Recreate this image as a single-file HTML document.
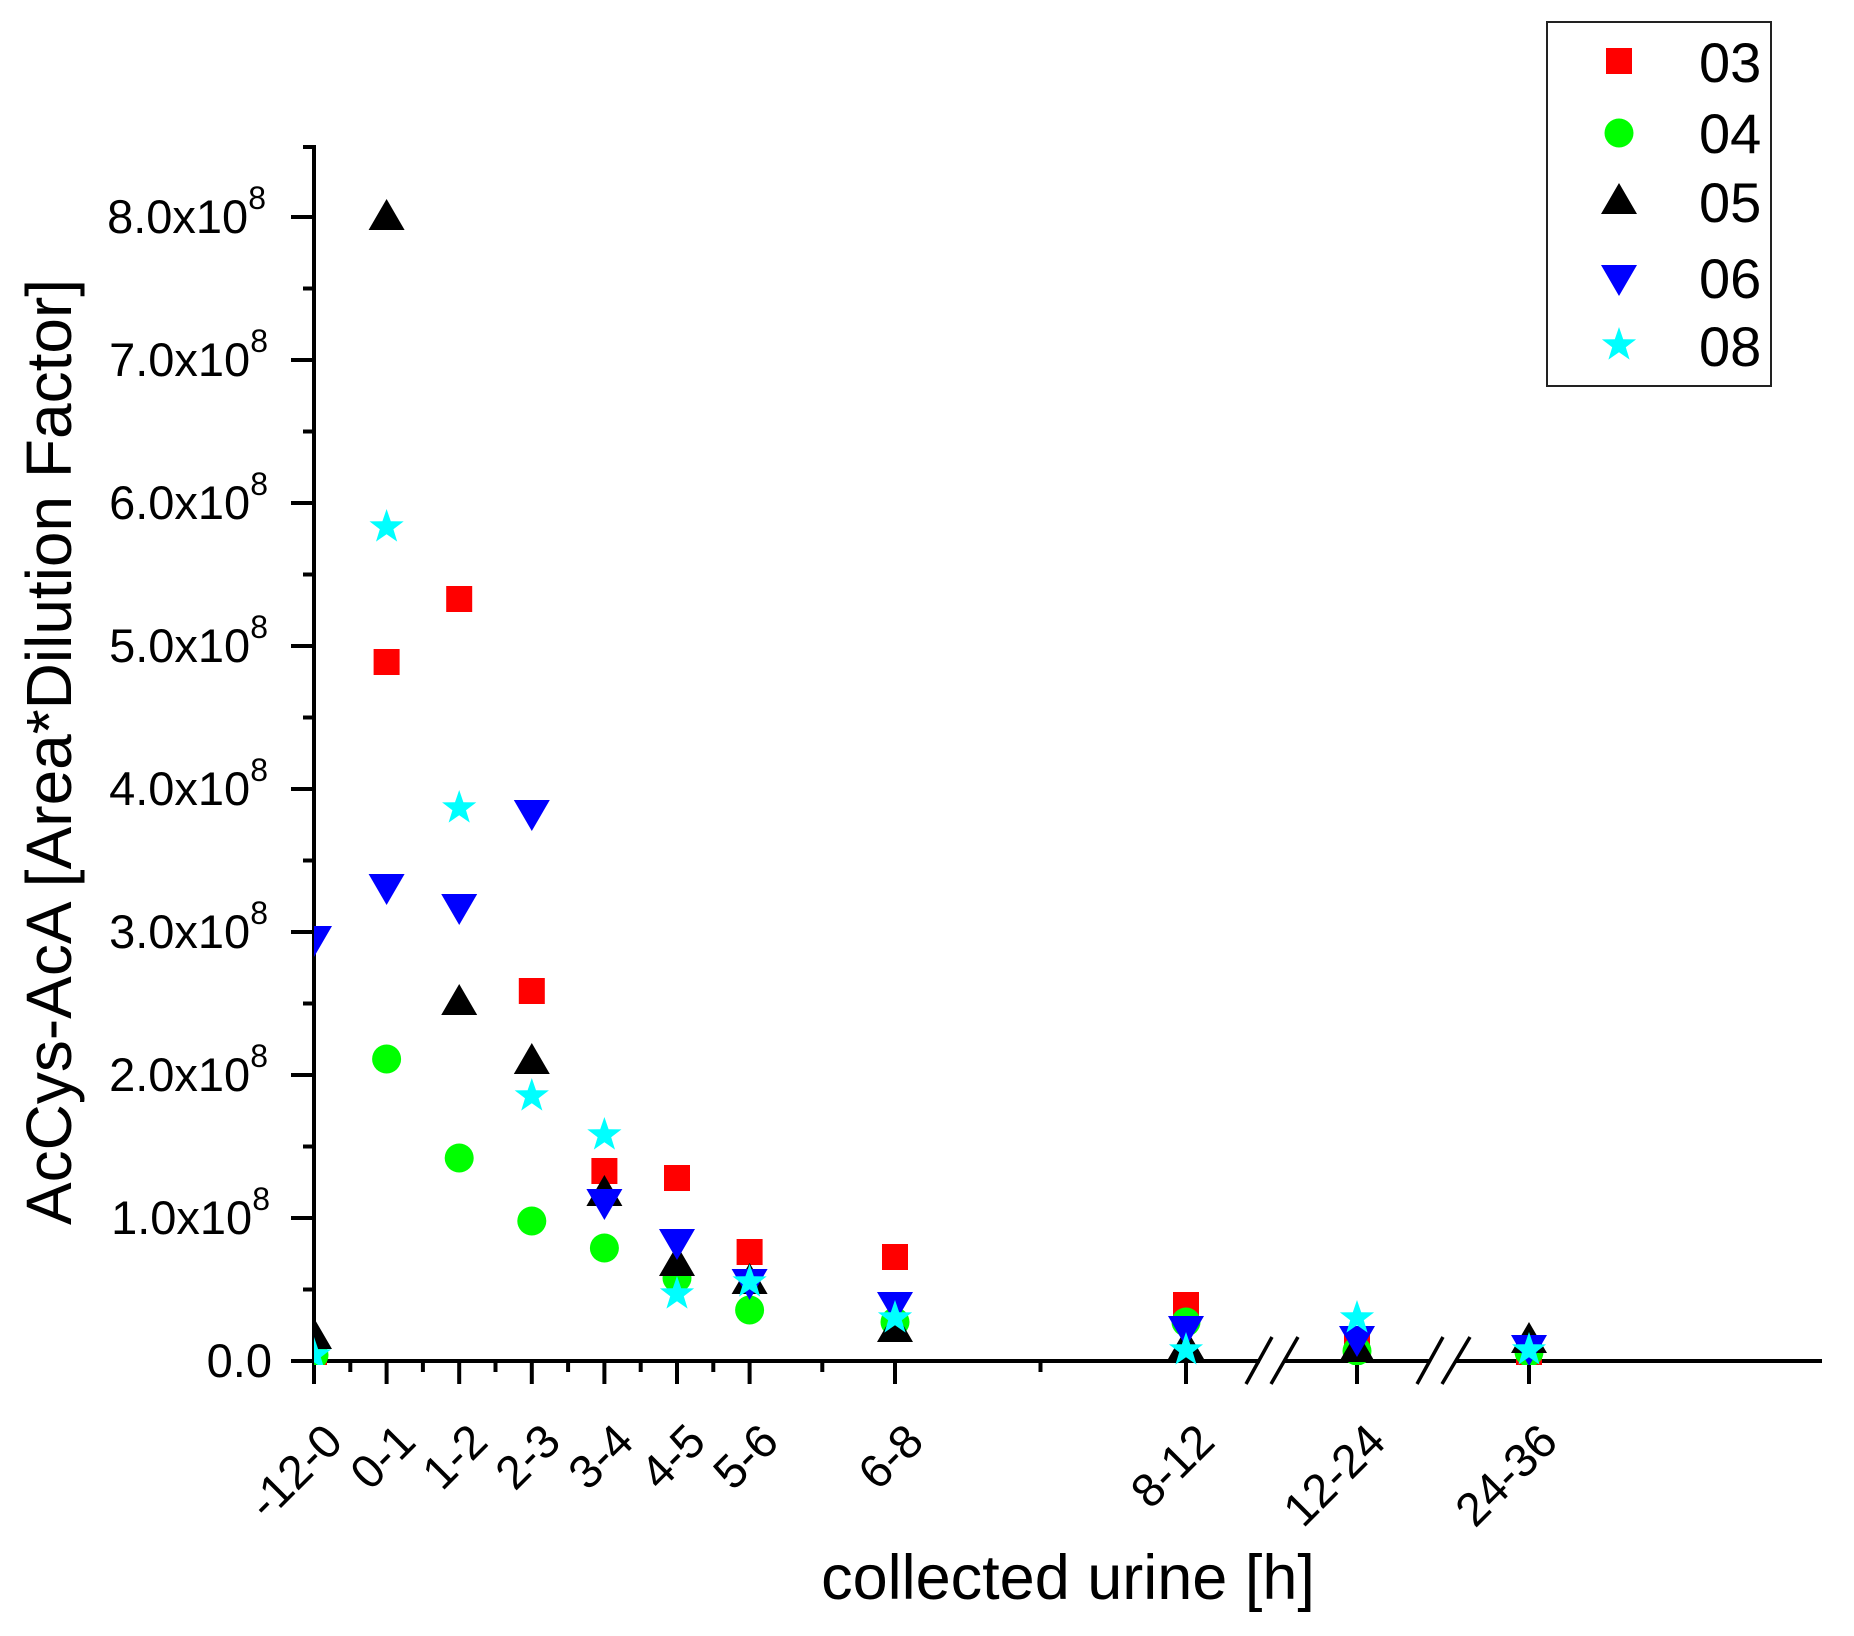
<!DOCTYPE html>
<html><head><meta charset="utf-8"><style>
html,body{margin:0;padding:0;background:#fff;}
svg{display:block;font-family:"Liberation Sans",Arial,sans-serif;}
</style></head><body>
<svg width="1854" height="1636" viewBox="0 0 1854 1636" xmlns="http://www.w3.org/2000/svg">
<defs>
<clipPath id="pc"><rect x="314" y="100" width="1520" height="1265"/></clipPath>
<rect id="sq" x="-13" y="-13" width="26" height="26" fill="#ff0000"/>
<circle id="ci" r="14.5" fill="#00ff00"/>
<polygon id="tu" points="0,-19 18,12 -18,12" fill="#000"/>
<polygon id="td" points="0,19 18,-12 -18,-12" fill="#0000ff"/>
<polygon id="st" points="0,-18 4.2,-5.8 17.1,-5.6 6.8,2.2 10.6,14.6 0,7.2 -10.6,14.6 -6.8,2.2 -17.1,-5.6 -4.2,-5.8" fill="#00ffff"/>
</defs>

<!-- axes -->
<g stroke="#000" stroke-width="4" fill="none">
<line x1="314" y1="145" x2="314" y2="1363"/>
<line x1="312" y1="1361" x2="1260" y2="1361"/>
<line x1="1285" y1="1361" x2="1430" y2="1361"/>
<line x1="1456" y1="1361" x2="1822" y2="1361"/>
</g>
<!-- axis break marks -->
<g stroke="#000" stroke-width="3.5">
<line x1="1246" y1="1384" x2="1272" y2="1337"/>
<line x1="1271" y1="1384" x2="1298" y2="1337"/>
<line x1="1417" y1="1384" x2="1443" y2="1337"/>
<line x1="1442" y1="1384" x2="1470" y2="1337"/>
</g>
<!-- y ticks -->
<g stroke="#000" stroke-width="4">
<line x1="291" y1="1361" x2="314" y2="1361"/><line x1="291" y1="1218" x2="314" y2="1218"/>
<line x1="291" y1="1075" x2="314" y2="1075"/><line x1="291" y1="932" x2="314" y2="932"/>
<line x1="291" y1="789" x2="314" y2="789"/><line x1="291" y1="646" x2="314" y2="646"/>
<line x1="291" y1="503" x2="314" y2="503"/><line x1="291" y1="360" x2="314" y2="360"/>
<line x1="291" y1="217" x2="314" y2="217"/>
<line x1="303" y1="1289.5" x2="314" y2="1289.5"/><line x1="303" y1="1146.5" x2="314" y2="1146.5"/>
<line x1="303" y1="1003.5" x2="314" y2="1003.5"/><line x1="303" y1="860.5" x2="314" y2="860.5"/>
<line x1="303" y1="717.5" x2="314" y2="717.5"/><line x1="303" y1="574.5" x2="314" y2="574.5"/>
<line x1="303" y1="431.5" x2="314" y2="431.5"/><line x1="303" y1="288.5" x2="314" y2="288.5"/>
<line x1="303" y1="147" x2="314" y2="147"/>
</g>
<!-- x ticks -->
<g stroke="#000" stroke-width="4">
<line x1="314" y1="1361" x2="314" y2="1384"/><line x1="386.6" y1="1361" x2="386.6" y2="1384"/>
<line x1="459.2" y1="1361" x2="459.2" y2="1384"/><line x1="531.8" y1="1361" x2="531.8" y2="1384"/>
<line x1="604.4" y1="1361" x2="604.4" y2="1384"/><line x1="677" y1="1361" x2="677" y2="1384"/>
<line x1="749.6" y1="1361" x2="749.6" y2="1384"/><line x1="895" y1="1361" x2="895" y2="1384"/>
<line x1="1186" y1="1361" x2="1186" y2="1384"/><line x1="1357" y1="1361" x2="1357" y2="1384"/>
<line x1="1529" y1="1361" x2="1529" y2="1384"/>
<line x1="350.3" y1="1361" x2="350.3" y2="1372"/><line x1="422.9" y1="1361" x2="422.9" y2="1372"/>
<line x1="495.5" y1="1361" x2="495.5" y2="1372"/><line x1="568.1" y1="1361" x2="568.1" y2="1372"/>
<line x1="640.7" y1="1361" x2="640.7" y2="1372"/><line x1="713.3" y1="1361" x2="713.3" y2="1372"/>
<line x1="822.3" y1="1361" x2="822.3" y2="1372"/><line x1="1040.5" y1="1361" x2="1040.5" y2="1372"/>
</g>
<!-- y tick labels -->
<g font-size="47" text-anchor="end" fill="#000">
<text x="272" y="1377">0.0</text>
<text x="270" y="1234">1.0x10<tspan font-size="32" dy="-24">8</tspan></text>
<text x="268" y="1091">2.0x10<tspan font-size="32" dy="-24">8</tspan></text>
<text x="268" y="948">3.0x10<tspan font-size="32" dy="-24">8</tspan></text>
<text x="268" y="805">4.0x10<tspan font-size="32" dy="-24">8</tspan></text>
<text x="268" y="662">5.0x10<tspan font-size="32" dy="-24">8</tspan></text>
<text x="268" y="519">6.0x10<tspan font-size="32" dy="-24">8</tspan></text>
<text x="268" y="376">7.0x10<tspan font-size="32" dy="-24">8</tspan></text>
<text x="266" y="233">8.0x10<tspan font-size="32" dy="-24">8</tspan></text>
</g>
<!-- x tick labels -->
<g font-size="47" text-anchor="end" fill="#000">
<text transform="translate(345,1444) rotate(-45)">-12-0</text>
<text transform="translate(418,1444) rotate(-45)">0-1</text>
<text transform="translate(490,1444) rotate(-45)">1-2</text>
<text transform="translate(563,1444) rotate(-45)">2-3</text>
<text transform="translate(636,1444) rotate(-45)">3-4</text>
<text transform="translate(708,1444) rotate(-45)">4-5</text>
<text transform="translate(781,1444) rotate(-45)">5-6</text>
<text transform="translate(926,1444) rotate(-45)">6-8</text>
<text transform="translate(1217,1444) rotate(-45)">8-12</text>
<text transform="translate(1388,1444) rotate(-45)">12-24</text>
<text transform="translate(1560,1444) rotate(-45)">24-36</text>
</g>
<!-- axis titles -->
<text x="1068" y="1599" font-size="63" text-anchor="middle">collected urine [h]</text>
<text transform="translate(71,752) rotate(-90)" font-size="64" text-anchor="middle">AcCys-AcA [Area*Dilution Factor]</text>

<!-- data -->
<g clip-path="url(#pc)">
<use href="#sq" x="314" y="1358"/><use href="#sq" x="386.6" y="662"/><use href="#sq" x="459.2" y="599"/>
<use href="#sq" x="531.8" y="991"/><use href="#sq" x="604.4" y="1171"/><use href="#sq" x="677" y="1178"/>
<use href="#sq" x="749.6" y="1252"/><use href="#sq" x="895" y="1257"/><use href="#sq" x="1186" y="1305"/>
<use href="#sq" x="1357" y="1347"/><use href="#sq" x="1529" y="1352"/>
<use href="#ci" x="314" y="1355"/><use href="#ci" x="386.6" y="1059"/><use href="#ci" x="459.2" y="1158"/>
<use href="#ci" x="531.8" y="1221"/><use href="#ci" x="604.4" y="1248"/><use href="#ci" x="677" y="1278"/>
<use href="#ci" x="749.6" y="1310"/><use href="#ci" x="895" y="1322"/><use href="#ci" x="1186" y="1322"/>
<use href="#ci" x="1357" y="1351"/><use href="#ci" x="1529" y="1352"/>
<use href="#tu" x="314" y="1337"/><use href="#tu" x="386.6" y="218"/><use href="#tu" x="459.2" y="1003"/>
<use href="#tu" x="531.8" y="1062"/><use href="#tu" x="604.4" y="1194"/><use href="#tu" x="677" y="1264"/>
<use href="#tu" x="749.6" y="1282"/><use href="#tu" x="895" y="1330"/><use href="#tu" x="1186" y="1347"/>
<use href="#tu" x="1357" y="1350"/><use href="#tu" x="1529" y="1341"/>
<use href="#td" x="314" y="938"/><use href="#td" x="386.6" y="886"/><use href="#td" x="459.2" y="906"/>
<use href="#td" x="531.8" y="812"/><use href="#td" x="604.4" y="1201"/><use href="#td" x="677" y="1241"/>
<use href="#td" x="749.6" y="1281"/><use href="#td" x="895" y="1304"/><use href="#td" x="1186" y="1328"/>
<use href="#td" x="1357" y="1338"/><use href="#td" x="1529" y="1347"/>
<use href="#st" x="314" y="1355"/><use href="#st" x="386.6" y="527"/><use href="#st" x="459.2" y="808"/>
<use href="#st" x="531.8" y="1096"/><use href="#st" x="604.4" y="1135"/><use href="#st" x="677" y="1294"/>
<use href="#st" x="749.6" y="1282"/><use href="#st" x="895" y="1318"/><use href="#st" x="1186" y="1350"/>
<use href="#st" x="1357" y="1318"/><use href="#st" x="1529" y="1350"/>
</g>

<!-- legend -->
<rect x="1547" y="22" width="224" height="364" fill="#fff" stroke="#222" stroke-width="2"/>
<use href="#sq" x="1619" y="61"/>
<use href="#ci" x="1619" y="133"/>
<use href="#tu" x="1619" y="202"/>
<use href="#td" x="1619" y="277"/>
<use href="#st" x="1619" y="345"/>
<g font-size="56" fill="#000">
<text x="1699" y="82">03</text>
<text x="1699" y="153">04</text>
<text x="1699" y="222">05</text>
<text x="1699" y="298">06</text>
<text x="1699" y="366">08</text>
</g>
</svg>
</body></html>
